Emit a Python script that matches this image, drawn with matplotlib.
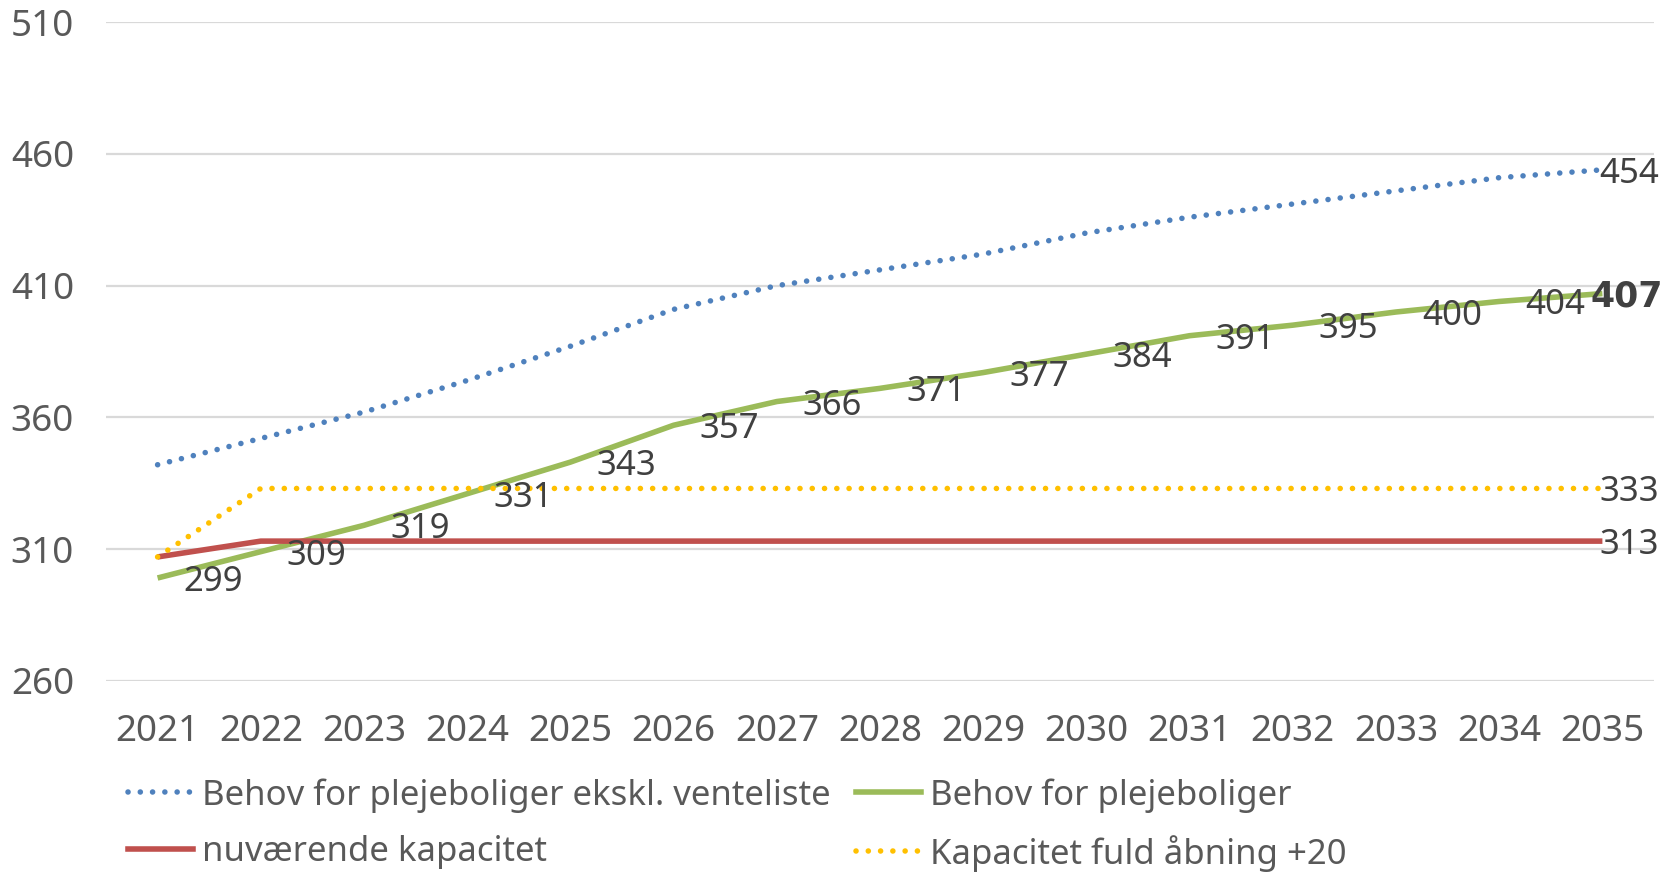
import matplotlib
matplotlib.use("Agg")
import matplotlib.pyplot as plt
from matplotlib.lines import Line2D

plt.rcParams['font.family'] = ['Noto Sans', 'DejaVu Sans']

years = [str(y) for y in range(2021, 2036)]
behov_ekskl = [342, 352, 362, 374, 387, 401, 410, 416, 422, 430, 436, 441, 446, 451, 454]
behov = [299, 309, 319, 331, 343, 357, 366, 371, 377, 384, 391, 395, 400, 404, 407]
kapacitet = [307, 313, 313, 313, 313, 313, 313, 313, 313, 313, 313, 313, 313, 313, 313]
kapacitet_fuld = [307, 333, 333, 333, 333, 333, 333, 333, 333, 333, 333, 333, 333, 333, 333]
y_ticks = [260, 310, 360, 410, 460, 510]

names = ["Behov for plejeboliger ekskl. venteliste", "Behov for plejeboliger",
         "nuværende kapacitet", "Kapacitet fuld åbning +20"]

BLUE = '#4F81BD'
GREEN = '#9BBB59'
RED = '#C0504D'
YELLOW = '#FFC000'
TICK_C = '#595959'
LABEL_C = '#404040'

dots = (0, (0.01, 2.2))
DOT_LW = 4.0

fig = plt.figure(figsize=(16.77, 8.72), dpi=100)
ax = fig.add_axes([106 / 1677, 1 - 680.7 / 872, 1548 / 1677, 658.4 / 872])

x = list(range(len(years)))
ax.plot(x, behov_ekskl, color=BLUE, lw=DOT_LW, linestyle=dots, dash_capstyle='round', zorder=3)
ax.plot(x, behov, color=GREEN, lw=4.0, solid_capstyle='butt', zorder=4)
ax.plot(x, kapacitet, color=RED, lw=4.0, solid_capstyle='butt', zorder=5)
ax.plot(x, kapacitet_fuld, color=YELLOW, lw=DOT_LW, linestyle=dots, dash_capstyle='round', zorder=6)

ax.set_xlim(-0.5, len(years) - 0.5)
ax.set_ylim(260, 510)
ax.set_yticks(y_ticks)
ax.set_xticks(x)
ax.set_xticklabels(years)
ax.grid(axis='y', color='#D9D9D9', lw=1.6)
ax.set_axisbelow(True)
for s in ax.spines.values():
    s.set_visible(False)
ax.tick_params(length=0, labelsize=26.5, colors=TICK_C)
ax.tick_params(axis='y', pad=23)
ax.tick_params(axis='x', pad=24)

# data labels
for i, v in enumerate(behov[:-1]):
    ax.annotate(str(v), (i, v), xytext=(26, -4), textcoords='offset pixels',
                ha='left', va='center', fontsize=25, color=LABEL_C, zorder=10)
ax.annotate(str(behov[-1]), (x[-1], behov[-1]), xytext=(-12, -3), textcoords='offset pixels',
            ha='left', va='center', fontsize=25, color=LABEL_C, fontweight='bold',
            family='DejaVu Sans', annotation_clip=False, zorder=10)
for ser in (behov_ekskl, kapacitet, kapacitet_fuld):
    ax.annotate(str(ser[-1]), (x[-1], ser[-1]), xytext=(-3, -4), textcoords='offset pixels',
                ha='left', va='center', fontsize=25, color=LABEL_C,
                annotation_clip=False, zorder=10)

# legend, two columns
h1 = Line2D([], [], color=BLUE, lw=DOT_LW, linestyle=dots, dash_capstyle='round')
h2 = Line2D([], [], color=GREEN, lw=4.0)
h3 = Line2D([], [], color=RED, lw=4.0)
h4 = Line2D([], [], color=YELLOW, lw=DOT_LW, linestyle=dots, dash_capstyle='round')
leg = fig.legend([h1, h3, h2, h4], [names[0], names[2], names[1], names[3]],
                 ncol=2, loc='upper left', bbox_to_anchor=(128 / 1677, 1 - 778 / 872),
                 frameon=False, fontsize=25, handlelength=1.86, handletextpad=0.26,
                 columnspacing=0.75, labelspacing=0.64, borderpad=0, borderaxespad=0)
for t in leg.get_texts():
    t.set_color(TICK_C)

fig.savefig('out.png', dpi=100)
